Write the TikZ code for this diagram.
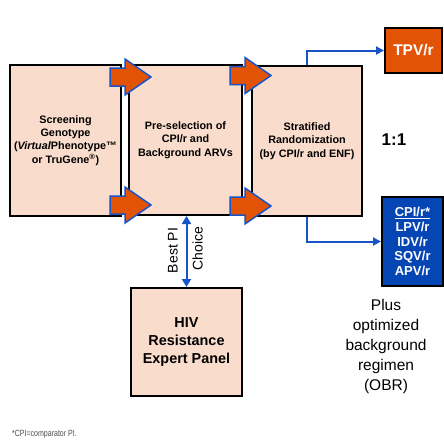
\documentclass[tikz,border=0pt]{standalone}
\usepackage{fontspec}
\setmainfont{Liberation Sans}
\usetikzlibrary{arrows.meta,calc}
\definecolor{peach}{RGB}{249,220,203}
\definecolor{orng}{RGB}{227,83,5}
\definecolor{bblue}{RGB}{22,84,200}
\definecolor{dblue}{RGB}{6,69,180}
\tikzset{
  stagebox/.style={draw=black,line width=2pt,fill=peach,inner sep=0pt,align=center,font=\fontsize{10.8}{13.3}\selectfont\bfseries},
  blockarrow/.style={fill=orng,draw=bblue,line width=1.5pt,line join=miter},
  bline/.style={draw=bblue,line width=2pt,-{Triangle[length=8pt,width=8pt]}},
  sidelabel/.style={rotate=90,inner sep=0pt,font=\fontsize{14}{15}\selectfont},
}
\begin{document}
\begin{tikzpicture}[x=1pt,y=-1pt]
\useasboundingbox (0,0) rectangle (444,445);
% stage boxes
\node[stagebox,minimum width=111pt,minimum height=151pt] (b1) at (65.5,140.5) {Screening\\Genotype\\(\textit{Virtual}Phenotype™\\or TruGene\textsuperscript{®})};
\node[stagebox,minimum width=113pt,minimum height=150pt] (b2) at (185.5,140) {Pre-selection of\\CPI/r and\\Background ARVs};
\node[stagebox,minimum width=110pt,minimum height=150pt] (b3) at (307,141) {Stratified\\Randomization\\(by CPI/r and ENF)};
\node[stagebox,minimum width=111pt,minimum height=108pt,font=\fontsize{14.4}{18}\selectfont\bfseries] (hiv) at (186.5,342) {HIV\\Resistance\\Expert Panel};
% outcome boxes
\node[draw=black,line width=2pt,fill=orng,text=white,inner sep=0pt,minimum width=57pt,minimum height=45pt,font=\fontsize{15.5}{17}\selectfont\bfseries] (tpv) at (413.5,50.5) {TPV/r};
\node[draw=black,line width=2pt,fill=dblue,text=white,inner sep=0pt,minimum width=61pt,minimum height=89pt,align=center,font=\fontsize{13}{14.7}\selectfont\bfseries] (cpi) at (412.5,241.5) {\underline{CPI/r*}\\LPV/r\\IDV/r\\SQV/r\\APV/r};
% block arrows
\foreach \xa/\ya in {110/77,110/205,230/75.5,230/206}{
  \path[blockarrow] (\xa,\ya-9) -- (\xa+15,\ya-9) -- (\xa+15,\ya-18) -- (\xa+41,\ya) -- (\xa+15,\ya+18) -- (\xa+15,\ya+9) -- (\xa,\ya+9) -- cycle;
}
% connectors
\draw[bline] (b3.north) |- (tpv.west);
\draw[bline] (b3.south) |- (cpi.west);
\draw[draw=bblue,line width=2pt,{Triangle[length=8pt,width=9pt]}-{Triangle[length=8pt,width=9pt]}] (hiv.north) -- (hiv.north |- b2.south);
\node[sidelabel] (best) at (173,250.5) {Best PI};
\node[sidelabel] (choice) at (197.5,248.5) {Choice};
% labels
\node[font=\fontsize{17}{18}\selectfont\bfseries] (ratio) at (394,140) {1:1};
\node[align=center,font=\fontsize{15.5}{20}\selectfont] (obr) at (386,346) {Plus\\optimized\\background\\regimen\\(OBR)};
\node[anchor=west,inner sep=0pt,text=black!70,font=\fontsize{9}{10}\selectfont] (foot) at (12,434) {\scalebox{0.78}[1]{*CPI=comparator PI.}};
\end{tikzpicture}
\end{document}
